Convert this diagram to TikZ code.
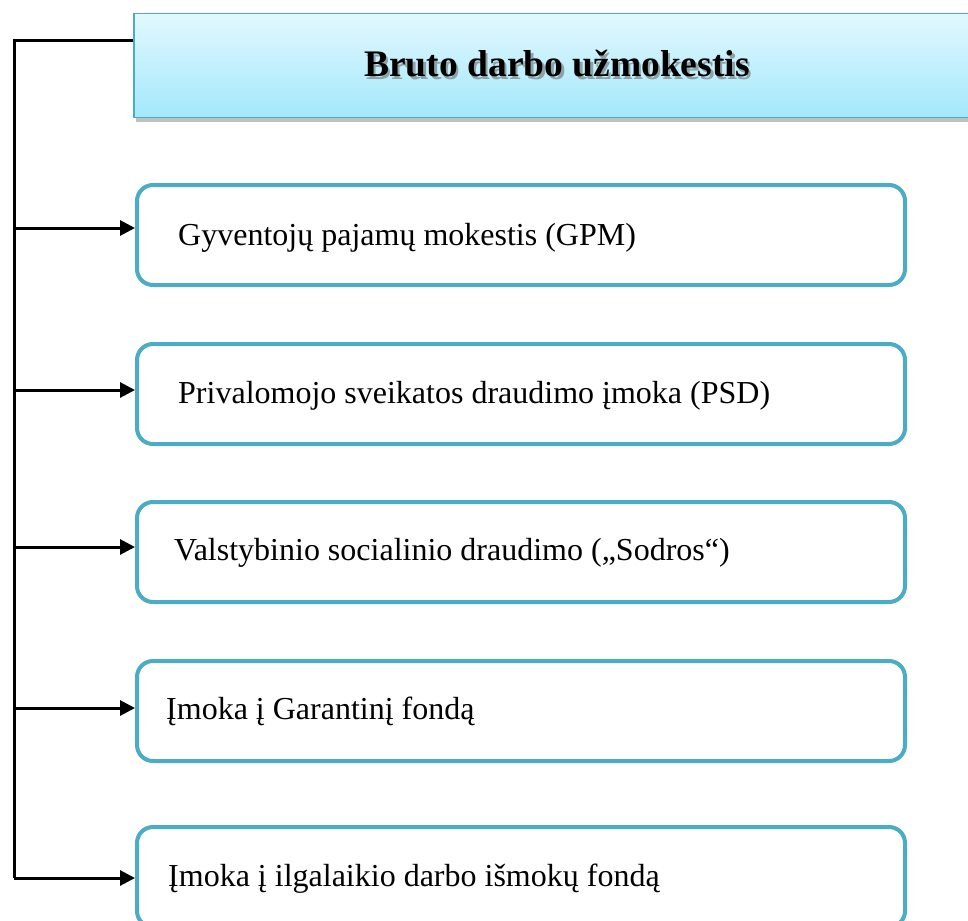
\documentclass[tikz,border=0pt]{standalone}
\usepackage{fontspec}
\setmainfont{Liberation Serif}
\usetikzlibrary{arrows.meta,shadows}
\definecolor{aqua}{HTML}{4BACC6}
\definecolor{ttop}{HTML}{E2F8FE}
\definecolor{tbot}{HTML}{A3E8FC}
\definecolor{tshade}{HTML}{5E7A80}
\tikzset{
  itembox/.style={draw=aqua, line width=4bp, rounded corners=16bp, fill=white,
    minimum width=768bp, minimum height=100bp, inner sep=0pt},
  titlebox/.style={draw=aqua, line width=1.2bp, top color=ttop, bottom color=tbot,
    minimum width=846bp, minimum height=104bp, inner sep=0pt,
    drop shadow={shadow xshift=2bp, shadow yshift=-4bp, opacity=0.4, fill=black!60}},
  itemtext/.style={anchor=base west, inner sep=0pt, font=\fontsize{32bp}{38bp}\selectfont},
  conn/.style={line width=3bp, draw=black},
  arr/.style={conn, -{Triangle[length=15bp,width=15bp]}}
}
\newcommand{\shadowtext}[1]{\rlap{\hspace{2.5bp}\raisebox{-3bp}{\color{tshade!70}#1}}#1}
\begin{document}
\begin{tikzpicture}[x=1bp,y=-1bp]
\clip (0,0) rectangle (968,921);
\fill[white] (0,0) rectangle (968,921);
% title
\node[titlebox] (title) at (557,65.5) {};
\node[inner sep=0pt, font=\fontsize{37.5bp}{44bp}\selectfont\bfseries] (ttext) at (557,65.5) {\shadowtext{Bruto darbo užmokestis}};
% boxes
\node[itembox, anchor=north west] (b1) at (135,183) {};
\node[itembox, anchor=north west] (b2) at (135,342) {};
\node[itembox, anchor=north west] (b3) at (135,500) {};
\node[itembox, anchor=north west] (b4) at (135,659) {};
\node[itembox, anchor=north west] (b5) at (135,825) {};
\node[itemtext] (t1) at (178,245) {Gyventojų pajamų mokestis (GPM)};
\node[itemtext] (t2) at (178,403) {Privalomojo sveikatos draudimo įmoka (PSD)};
\node[itemtext] (t3) at (174,560) {Valstybinio socialinio draudimo („Sodros“)};
\node[itemtext] (t4) at (166,719) {Įmoka į Garantinį fondą};
\node[itemtext] (t5) at (168,886) {Įmoka į ilgalaikio darbo išmokų fondą};
% connectors
\coordinate (top) at (14,40.5);
\coordinate (j1) at (14,228);
\coordinate (j2) at (14,390);
\coordinate (j3) at (14,547);
\coordinate (j4) at (14,708);
\coordinate (j5) at (14,878);
\draw[conn] (top -| title.west) -- (top) -- (j5);
\draw[arr] (j1) -- (j1 -| b1.west);
\draw[arr] (j2) -- (j2 -| b2.west);
\draw[arr] (j3) -- (j3 -| b3.west);
\draw[arr] (j4) -- (j4 -| b4.west);
\draw[arr] (j5) -- (j5 -| b5.west);
\end{tikzpicture}
\end{document}
